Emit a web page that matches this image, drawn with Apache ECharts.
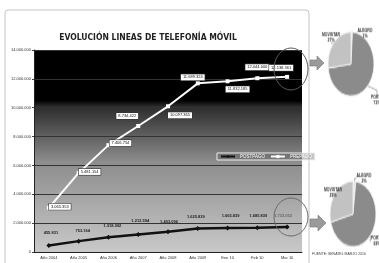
<!DOCTYPE html>
<html>
<head>
<meta charset="utf-8">
<script src="https://cdn.jsdelivr.net/npm/echarts@6/dist/echarts.min.js"></script>
<style>
  html, body { margin: 0; padding: 0; background: #fff; overflow: hidden; width: 379px; height: 263px; }
  #main { position: absolute; left: 0; top: 0; width: 379px; height: 263px; }
  .pie { position: absolute; width: 80px; height: 80px; }
  #pie1 { left: 311px; top: 24px; transform: scaleY(1.39); }
  #pie2 { left: 313px; top: 174px; transform: scaleY(1.42); }
</style>
</head>
<body>
<div id="main"></div>
<div id="pie1" class="pie"></div>
<div id="pie2" class="pie"></div>
<script>
// datos
var categorias = ["Año 2004", "Año 2005", "Año 2006", "Año 2007", "Año 2008", "Año 2009", "Ene 10", "Feb 10", "Mar 10"];
var postpago = [455831, 753164, 1018092, 1213594, 1403096, 1625839, 1665839, 1685839, 1733052];
var prepago = [3065353, 5481154, 7406754, 8734422, 10097365, 11689324, 11832185, 12044000, 12138361];
var ejeY = [0, 2000000, 4000000, 6000000, 8000000, 10000000, 12000000, 14000000];

// reparto por operadora (pasteles de la derecha)
var operadoras = ["ALEGRO", "PORTA", "MOVISTAR"];
var cuotaPrepago = [1, 72, 27];
var cuotaPostpago = [2, 69, 29];

// desplazamiento de las etiquetas respecto al punto
var offPrepago = [[11, -1], [11, -1], [12, -2], [-11, -10], [12, 9], [-5, -6], [10, 8], [0, -11], [-6, -9]];
var offPostpago = [[2, -13], [4, -10], [4, -11], [2, -14], [1, -10], [-2, -12], [3, -12], [1, -12], [-4, -11]];
// sitio de las etiquetas de los pasteles (coordenadas del div, antes de escalar)
var etiq1 = [[54, 18], [66, 66], [20, 21]];
var etiq2 = [[51, 15], [64, 59], [20, 25]];

function puntos(v) {
  return String(v).replace(/\B(?=(\d{3})+(?!\d))/g, ".");
}

var fuente = "'Liberation Sans', Arial, sans-serif";

var chart = echarts.init(document.getElementById("main"));
chart.setOption({
  animation: false,
  textStyle: { fontFamily: fuente },
  title: {
    text: "EVOLUCIÓN LINEAS DE TELEFONÍA MÓVIL",
    left: 143,
    top: 28,
    textAlign: "center",
    textStyle: {
      fontFamily: "'Liberation Sans Narrow', 'DejaVu Sans Condensed', sans-serif",
      fontSize: 8.5, fontWeight: "bold", color: "#222"
    }
  },
  legend: {
    data: ["POSTPAGO", "PREPAGO"],
    left: 217, top: 153,
    itemWidth: 14, itemHeight: 4, itemGap: 5,
    padding: [1, 3],
    borderColor: "#eee", borderWidth: 1,
    backgroundColor: "rgba(90,90,90,0.35)",
    textStyle: { color: "#fff", fontSize: 4.5 }
  },
  grid: {
    left: 34, right: 77, top: 50, bottom: 11,
    show: true, borderWidth: 0,
    backgroundColor: new echarts.graphic.LinearGradient(0, 0, 0, 1, [
      { offset: 0, color: "#000" },
      { offset: 0.25, color: "#000" },
      { offset: 0.28, color: "#2c2c2c" },
      { offset: 0.55, color: "#8c8c8c" },
      { offset: 1, color: "#c9c9c9" }
    ])
  },
  xAxis: {
    type: "category",
    data: categorias,
    axisLine: { lineStyle: { color: "#222" } },
    axisTick: { show: false },
    axisLabel: { fontSize: 4, color: "#333", margin: 4 }
  },
  yAxis: {
    type: "value",
    min: ejeY[0],
    max: ejeY[ejeY.length - 1],
    interval: ejeY[1] - ejeY[0],
    axisLine: { show: true, lineStyle: { color: "#222" } },
    axisTick: { show: true, length: 2, lineStyle: { color: "#444" } },
    axisLabel: { fontSize: 4, color: "#333", margin: 3, formatter: puntos },
    splitLine: { lineStyle: { color: "#333", width: 1 } }
  },
  series: [
    {
      name: "POSTPAGO",
      type: "line",
      data: postpago.map(function (v, i) {
        return {
          value: v,
          label: { offset: offPostpago[i], color: i === postpago.length - 1 ? "#666" : "#222" }
        };
      }),
      color: "#111",
      lineStyle: { color: "#111", width: 2.5 },
      symbol: "diamond",
      symbolSize: 5,
      itemStyle: { color: "#111" },
      label: {
        show: true, position: "inside",
        fontSize: 4, fontWeight: "bold",
        formatter: function (p) { return puntos(p.value); }
      },
      z: 3
    },
    {
      name: "PREPAGO",
      type: "line",
      data: prepago.map(function (v, i) {
        return { value: v, label: { offset: offPrepago[i] } };
      }),
      color: "#fff",
      lineStyle: { color: "#fafafa", width: 2 },
      symbol: "rect",
      symbolSize: 4,
      itemStyle: { color: "#fff" },
      label: {
        show: true, position: "inside",
        fontSize: 4, color: "#111",
        backgroundColor: "#fff", borderColor: "#333", borderWidth: 0.6,
        padding: [1, 2],
        formatter: function (p) { return puntos(p.value); }
      },
      z: 4
    }
  ],
  graphic: [
    {
      type: "rect", z: -100, silent: true,
      shape: { x: 5, y: 10, width: 304, height: 262, r: 3 },
      style: { fill: "#fff", stroke: "#c4c4c4", lineWidth: 1 }
    },
    {
      type: "ellipse", z: 100, silent: true,
      shape: { cx: 291, cy: 69, rx: 17, ry: 21 },
      style: { fill: null, stroke: "#5a5a5a", lineWidth: 1 }
    },
    {
      type: "ellipse", z: 100, silent: true,
      shape: { cx: 291, cy: 217, rx: 17, ry: 19 },
      style: { fill: null, stroke: "#6a6a6a", lineWidth: 1 }
    },
    {
      type: "polygon", z: 100, silent: true,
      shape: { points: [[310, 60], [317, 60], [317, 56], [324, 63], [317, 70], [317, 66], [310, 66]] },
      style: { fill: "#9a9a9a", stroke: "#777", lineWidth: 0.6 }
    },
    {
      type: "polygon", z: 100, silent: true,
      shape: { points: [[310, 219], [318, 219], [318, 215], [326, 223], [318, 231], [318, 227], [310, 227]] },
      style: { fill: "#9a9a9a", stroke: "#777", lineWidth: 0.6 }
    },
    {
      type: "text", z: 100, silent: true,
      style: { x: 312, y: 252, text: "FUENTE: SENATEL MARZO 2010", fontSize: 3.5, fill: "#444", fontFamily: fuente }
    }
  ]
});

function pastel(id, cuotas, sitios) {
  var c = echarts.init(document.getElementById(id));
  c.setOption({
    animation: false,
    series: [{
      type: "pie",
      radius: 23,
      center: ["50%", "50%"],
      startAngle: 90,
      data: operadoras.map(function (n, i) { return { name: n, value: cuotas[i] }; }),
      color: ["#e6e6e6", "#8b8b8b", "#c2c2c2"],
      itemStyle: { borderColor: "#f2f2f2", borderWidth: 0.8 },
      label: {
        fontSize: 3.5, color: "#333", fontWeight: "bold",
        fontFamily: fuente, lineHeight: 4,
        overflow: "none",
        formatter: "{b}\n{c}%"
      },
      labelLine: { length: 3, length2: 3, lineStyle: { color: "#666", width: 0.5 } },
      labelLayout: function (p) {
        var s = sitios[p.dataIndex];
        return { x: s[0], y: s[1], align: "center", verticalAlign: "middle" };
      }
    }]
  });
}
pastel("pie1", cuotaPrepago, etiq1);
pastel("pie2", cuotaPostpago, etiq2);
</script>
</body>
</html>
